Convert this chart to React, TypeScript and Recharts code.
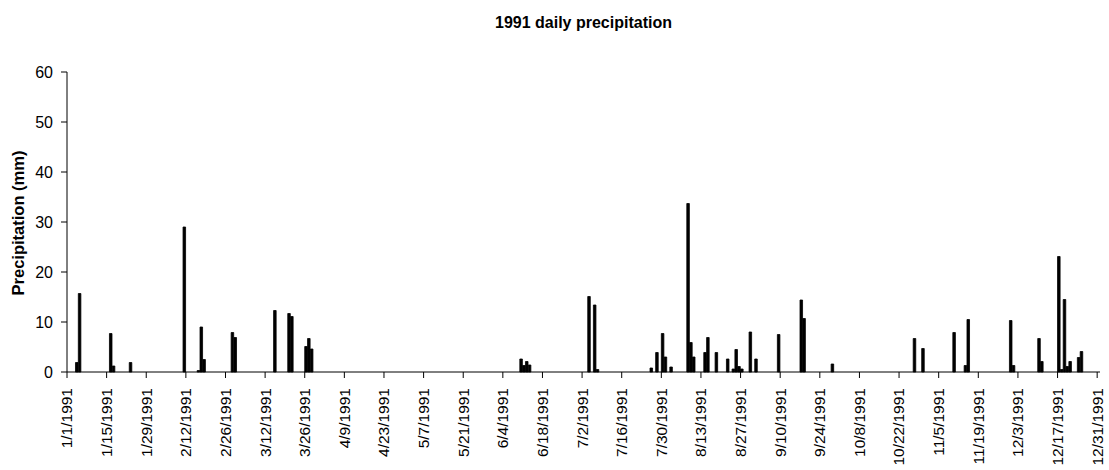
import { BarChart, Bar, XAxis, YAxis } from 'recharts';

// Días con lluvia (mm); el resto del año es 0
const rainDates = [
  '1/4/1991', '1/5/1991', '1/16/1991', '1/17/1991', '1/23/1991',
  '2/11/1991', '2/16/1991', '2/17/1991', '2/18/1991', '2/28/1991',
  '3/1/1991', '3/15/1991', '3/20/1991', '3/21/1991', '3/26/1991',
  '3/27/1991', '3/28/1991',
  '6/10/1991', '6/11/1991', '6/12/1991', '6/13/1991',
  '7/4/1991', '7/6/1991', '7/7/1991', '7/26/1991', '7/28/1991',
  '7/30/1991', '7/31/1991',
  '8/2/1991', '8/8/1991', '8/9/1991', '8/10/1991', '8/14/1991',
  '8/15/1991', '8/18/1991', '8/22/1991', '8/24/1991', '8/25/1991',
  '8/26/1991', '8/27/1991', '8/30/1991',
  '9/1/1991', '9/9/1991', '9/17/1991', '9/18/1991', '9/28/1991',
  '10/27/1991', '10/30/1991',
  '11/10/1991', '11/14/1991', '11/15/1991', '11/30/1991',
  '12/1/1991', '12/10/1991', '12/11/1991', '12/17/1991', '12/18/1991',
  '12/19/1991', '12/20/1991', '12/21/1991', '12/24/1991', '12/25/1991',
];

const rainMm = [
  1.9, 15.7, 7.7, 1.2, 1.9,
  29.0, 0.3, 9.0, 2.5, 7.9,
  6.9, 12.3, 11.7, 11.1, 5.1,
  6.7, 4.6,
  2.6, 1.3, 2.1, 1.4,
  15.1, 13.4, 0.5, 0.8, 3.9,
  7.7, 3.0,
  1.0, 33.7, 5.9, 3.0, 3.9,
  6.9, 3.9, 2.6, 0.6, 4.5,
  1.1, 0.6, 8.0,
  2.6, 7.5, 14.4, 10.7, 1.6,
  6.7, 4.7,
  7.9, 1.3, 10.5, 10.3,
  1.3, 6.7, 2.1, 23.1, 0.5,
  14.5, 1.1, 2.1, 2.9, 4.1,
];

const tickLabels = [
  '1/1/1991', '1/15/1991', '1/29/1991', '2/12/1991', '2/26/1991', '3/12/1991',
  '3/26/1991', '4/9/1991', '4/23/1991', '5/7/1991', '5/21/1991', '6/4/1991',
  '6/18/1991', '7/2/1991', '7/16/1991', '7/30/1991', '8/13/1991', '8/27/1991',
  '9/10/1991', '9/24/1991', '10/8/1991', '10/22/1991', '11/5/1991', '11/19/1991',
  '12/3/1991', '12/17/1991', '12/31/1991',
];

const yTicks = [0, 10, 20, 30, 40, 50, 60];

// todos los días de 1991 como categorías
const days: string[] = [];
for (let d = 0; d < 365; d++) {
  const dt = new Date(Date.UTC(1991, 0, 1 + d));
  days.push(`${dt.getUTCMonth() + 1}/${dt.getUTCDate()}/1991`);
}

const data = days.map(date => {
  const k = rainDates.indexOf(date);
  return { date, precip: k >= 0 ? rainMm[k] : 0 };
});

const FONT = 'Arial, "Liberation Sans", sans-serif';
const PLOT_LEFT = 67;
const PLOT_RIGHT = 1100;
const halfBand = (PLOT_RIGHT - PLOT_LEFT) / days.length / 2;

const DateTick = ({ x, y, payload }: any) => {
  if (!tickLabels.includes(payload.value)) return <g />;
  const tx = x - halfBand;
  return (
    <g>
      <line x1={tx} x2={tx} y1={y - 6} y2={y} stroke="#000" strokeWidth={1} />
      <text
        x={tx}
        y={y + 10}
        transform={`rotate(-90 ${tx} ${y + 10})`}
        textAnchor="end"
        dy="0.35em"
        fontSize={15.5}
        fontFamily={FONT}
        fill="#000"
      >
        {payload.value}
      </text>
    </g>
  );
};

const YLabel = () => (
  <text
    x={18}
    y={223}
    transform="rotate(-90 18 223)"
    textAnchor="middle"
    dy="0.35em"
    fontSize={16.5}
    fontWeight="bold"
    fontFamily={FONT}
    fill="#000"
  >
    Precipitation (mm)
  </text>
);

const App = () => {
  return (
    <div style={{ position: 'absolute', left: 0, top: 0, width: 1109, height: 470, background: '#fff' }}>
      <div
        style={{
          position: 'absolute',
          left: PLOT_LEFT,
          width: PLOT_RIGHT - PLOT_LEFT,
          top: 15,
          textAlign: 'center',
          fontFamily: FONT,
          fontWeight: 'bold',
          fontSize: 16,
          lineHeight: '16px',
          color: '#000',
        }}
      >
        1991 daily precipitation
      </div>
      <BarChart
        width={1109}
        height={470}
        data={data}
        margin={{ top: 72, right: 9, bottom: 0, left: 0 }}
        barCategoryGap={0}
      >
        <XAxis
          dataKey="date"
          type="category"
          interval={0}
          height={98}
          tickLine={false}
          tickSize={6}
          tickMargin={0}
          tick={<DateTick />}
          axisLine={{ stroke: '#000' }}
        />
        <YAxis
          width={67}
          domain={[0, 60]}
          ticks={yTicks}
          interval={0}
          tickSize={6}
          tickMargin={8}
          axisLine={{ stroke: '#000' }}
          tickLine={{ stroke: '#000' }}
          tick={{ fill: '#000', fontSize: 16, fontFamily: FONT }}
          label={{ content: () => <YLabel /> }}
        />
        <Bar dataKey="precip" fill="#000" stroke="#000" strokeWidth={0.8} barSize={3} isAnimationActive={false} />
      </BarChart>
    </div>
  );
};

export default App;
